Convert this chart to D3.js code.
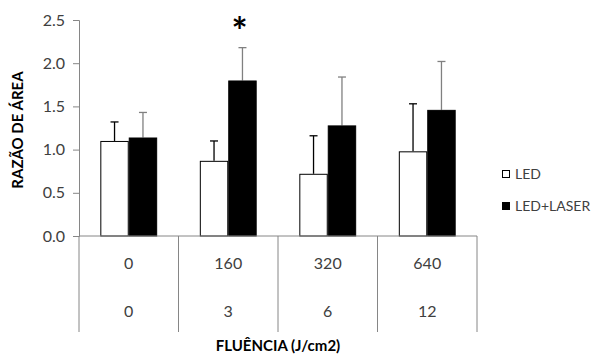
<!DOCTYPE html>
<html lang="pt">
<head>
<meta charset="UTF-8">
<title>Razão de área por fluência</title>
<script src="https://cdn.jsdelivr.net/npm/d3@7/dist/d3.min.js"></script>
<style>
  body { margin: 0; background: #fff; }
  svg { display: block; font-family: Lato, "Open Sans", sans-serif; }
</style>
</head>
<body>
<svg width="595" height="354"></svg>
<script>
// dados
var fluencia = ["0", "160", "320", "640"];
var fluencia2 = ["0", "3", "6", "12"];
var series = ["LED", "LED+LASER"];
var led = [1.10, 0.87, 0.72, 0.98];
var ledErr = [0.22, 0.23, 0.44, 0.55];
var laser = [1.14, 1.80, 1.28, 1.46];
var laserErr = [0.29, 0.38, 0.56, 0.56];
var yTicks = [0, 0.5, 1.0, 1.5, 2.0, 2.5];
var signif = [false, true, false, false];

(function() {
var svg = d3.select("svg");
var mLeft = 79, mRight = 477, mTop = 20, mBottom = 236;

var x = d3.scaleBand().domain(d3.range(fluencia.length)).range([mLeft, mRight]);
var inner = d3.scaleBand().domain(series).range([0, x.bandwidth()])
  .paddingInner(0).paddingOuter(0.75);
var y = d3.scaleLinear().domain([0, 2.5]).range([mBottom, mTop]);

var axisColor = "#868686", textColor = "#404040";

// eixo y
var yAxis = d3.axisLeft(y).tickValues(yTicks).tickSize(6).tickPadding(8)
  .tickFormat(d3.format(".1f"));
var gy = svg.append("g").attr("transform", "translate(" + mLeft + ",0)").call(yAxis);
gy.select(".domain").attr("stroke", axisColor);
gy.selectAll(".tick line").attr("stroke", axisColor);
gy.selectAll(".tick text").attr("fill", textColor)
  .style("font-size", "16px").style("font-family", "Lato, sans-serif");

// barras
var data = [];
fluencia.forEach(function(f, i) {
  data.push({ i: i, s: series[0], v: led[i], e: ledErr[i] });
  data.push({ i: i, s: series[1], v: laser[i], e: laserErr[i] });
});
function cx(d) { return x(d.i) + inner(d.s) + inner.bandwidth() / 2; }

var bars = svg.append("g");
// barras de erro
bars.selectAll("line.err").data(data).enter().append("line")
  .attr("class", "err")
  .attr("x1", cx).attr("x2", cx)
  .attr("y1", function(d) { return y(d.v); })
  .attr("y2", function(d) { return y(d.v + d.e); })
  .attr("stroke", function(d) { return d.s === "LED" ? "#000" : "#808080"; })
  .attr("stroke-width", 1.3);
bars.selectAll("line.cap").data(data).enter().append("line")
  .attr("class", "cap")
  .attr("x1", function(d) { return cx(d) - 4; })
  .attr("x2", function(d) { return cx(d) + 4; })
  .attr("y1", function(d) { return y(d.v + d.e); })
  .attr("y2", function(d) { return y(d.v + d.e); })
  .attr("stroke", function(d) { return d.s === "LED" ? "#000" : "#808080"; })
  .attr("stroke-width", 1.3);

bars.selectAll("rect").data(data).enter().append("rect")
  .attr("x", function(d) { return x(d.i) + inner(d.s) + 0.5; })
  .attr("y", function(d) { return y(d.v) + 0.5; })
  .attr("width", inner.bandwidth() - 1)
  .attr("height", function(d) { return y(0) - y(d.v) - 0.5; })
  .attr("fill", function(d) { return d.s === "LED" ? "#fff" : "#000"; })
  .attr("stroke", "#000")
  .attr("stroke-width", 1);

// asterisco
svg.append("g").selectAll("text")
  .data(d3.range(fluencia.length).filter(function(i) { return signif[i]; }))
  .enter().append("text")
  .attr("x", function(i) { return x(i) + inner("LED+LASER") + inner.bandwidth() / 2 - 3; })
  .attr("y", 45)
  .attr("text-anchor", "middle")
  .style("font-size", "38px").style("font-weight", "bold")
  .text("*");

// tabela do eixo x
var tbl = svg.append("g");
tbl.append("line").attr("x1", mLeft).attr("x2", mRight).attr("y1", mBottom).attr("y2", mBottom)
  .attr("stroke", axisColor);
tbl.selectAll("line.v").data(d3.range(fluencia.length + 1)).enter().append("line")
  .attr("class", "v")
  .attr("x1", function(i) { return i < fluencia.length ? x(i) : mRight; })
  .attr("x2", function(i) { return i < fluencia.length ? x(i) : mRight; })
  .attr("y1", mBottom).attr("y2", 332)
  .attr("stroke", axisColor);
tbl.selectAll("text.r1").data(fluencia).enter().append("text")
  .attr("x", function(d, i) { return x(i) + x.bandwidth() / 2; })
  .attr("y", 263).attr("dy", "0.35em")
  .attr("text-anchor", "middle").attr("fill", textColor).style("font-size", "16px")
  .text(function(d) { return d; });
tbl.selectAll("text.r2").data(fluencia2).enter().append("text")
  .attr("x", function(d, i) { return x(i) + x.bandwidth() / 2; })
  .attr("y", 311).attr("dy", "0.35em")
  .attr("text-anchor", "middle").attr("fill", textColor).style("font-size", "16px")
  .text(function(d) { return d; });

// títulos
svg.append("text").attr("x", (mLeft + mRight) / 2).attr("y", 346).attr("dy", "0.35em")
  .attr("text-anchor", "middle").style("font-size", "15px").style("font-weight", "bold")
  .attr("fill", "#000").text("FLUÊNCIA (J/cm2)");
svg.append("text").attr("transform", "translate(18," + ((mTop + mBottom) / 2 + 2) + ") rotate(-90)")
  .attr("dy", "0.35em").attr("text-anchor", "middle")
  .style("font-size", "15px").style("font-weight", "bold")
  .text("RAZÃO DE ÁREA");

// legenda
var leg = svg.append("g").selectAll("g").data(series).enter().append("g")
  .attr("transform", function(d, i) { return "translate(502," + (174 + i * 32) + ")"; });
leg.append("rect").attr("x", 0.5).attr("y", -3.5).attr("width", 7).attr("height", 7)
  .attr("fill", function(d) { return d === "LED" ? "#fff" : "#000"; })
  .attr("stroke", "#000");
leg.append("text").attr("x", 13).attr("dy", "0.35em").style("font-size", "14px")
  .attr("fill", textColor).text(function(d) { return d; });
})();
</script>
</body>
</html>
